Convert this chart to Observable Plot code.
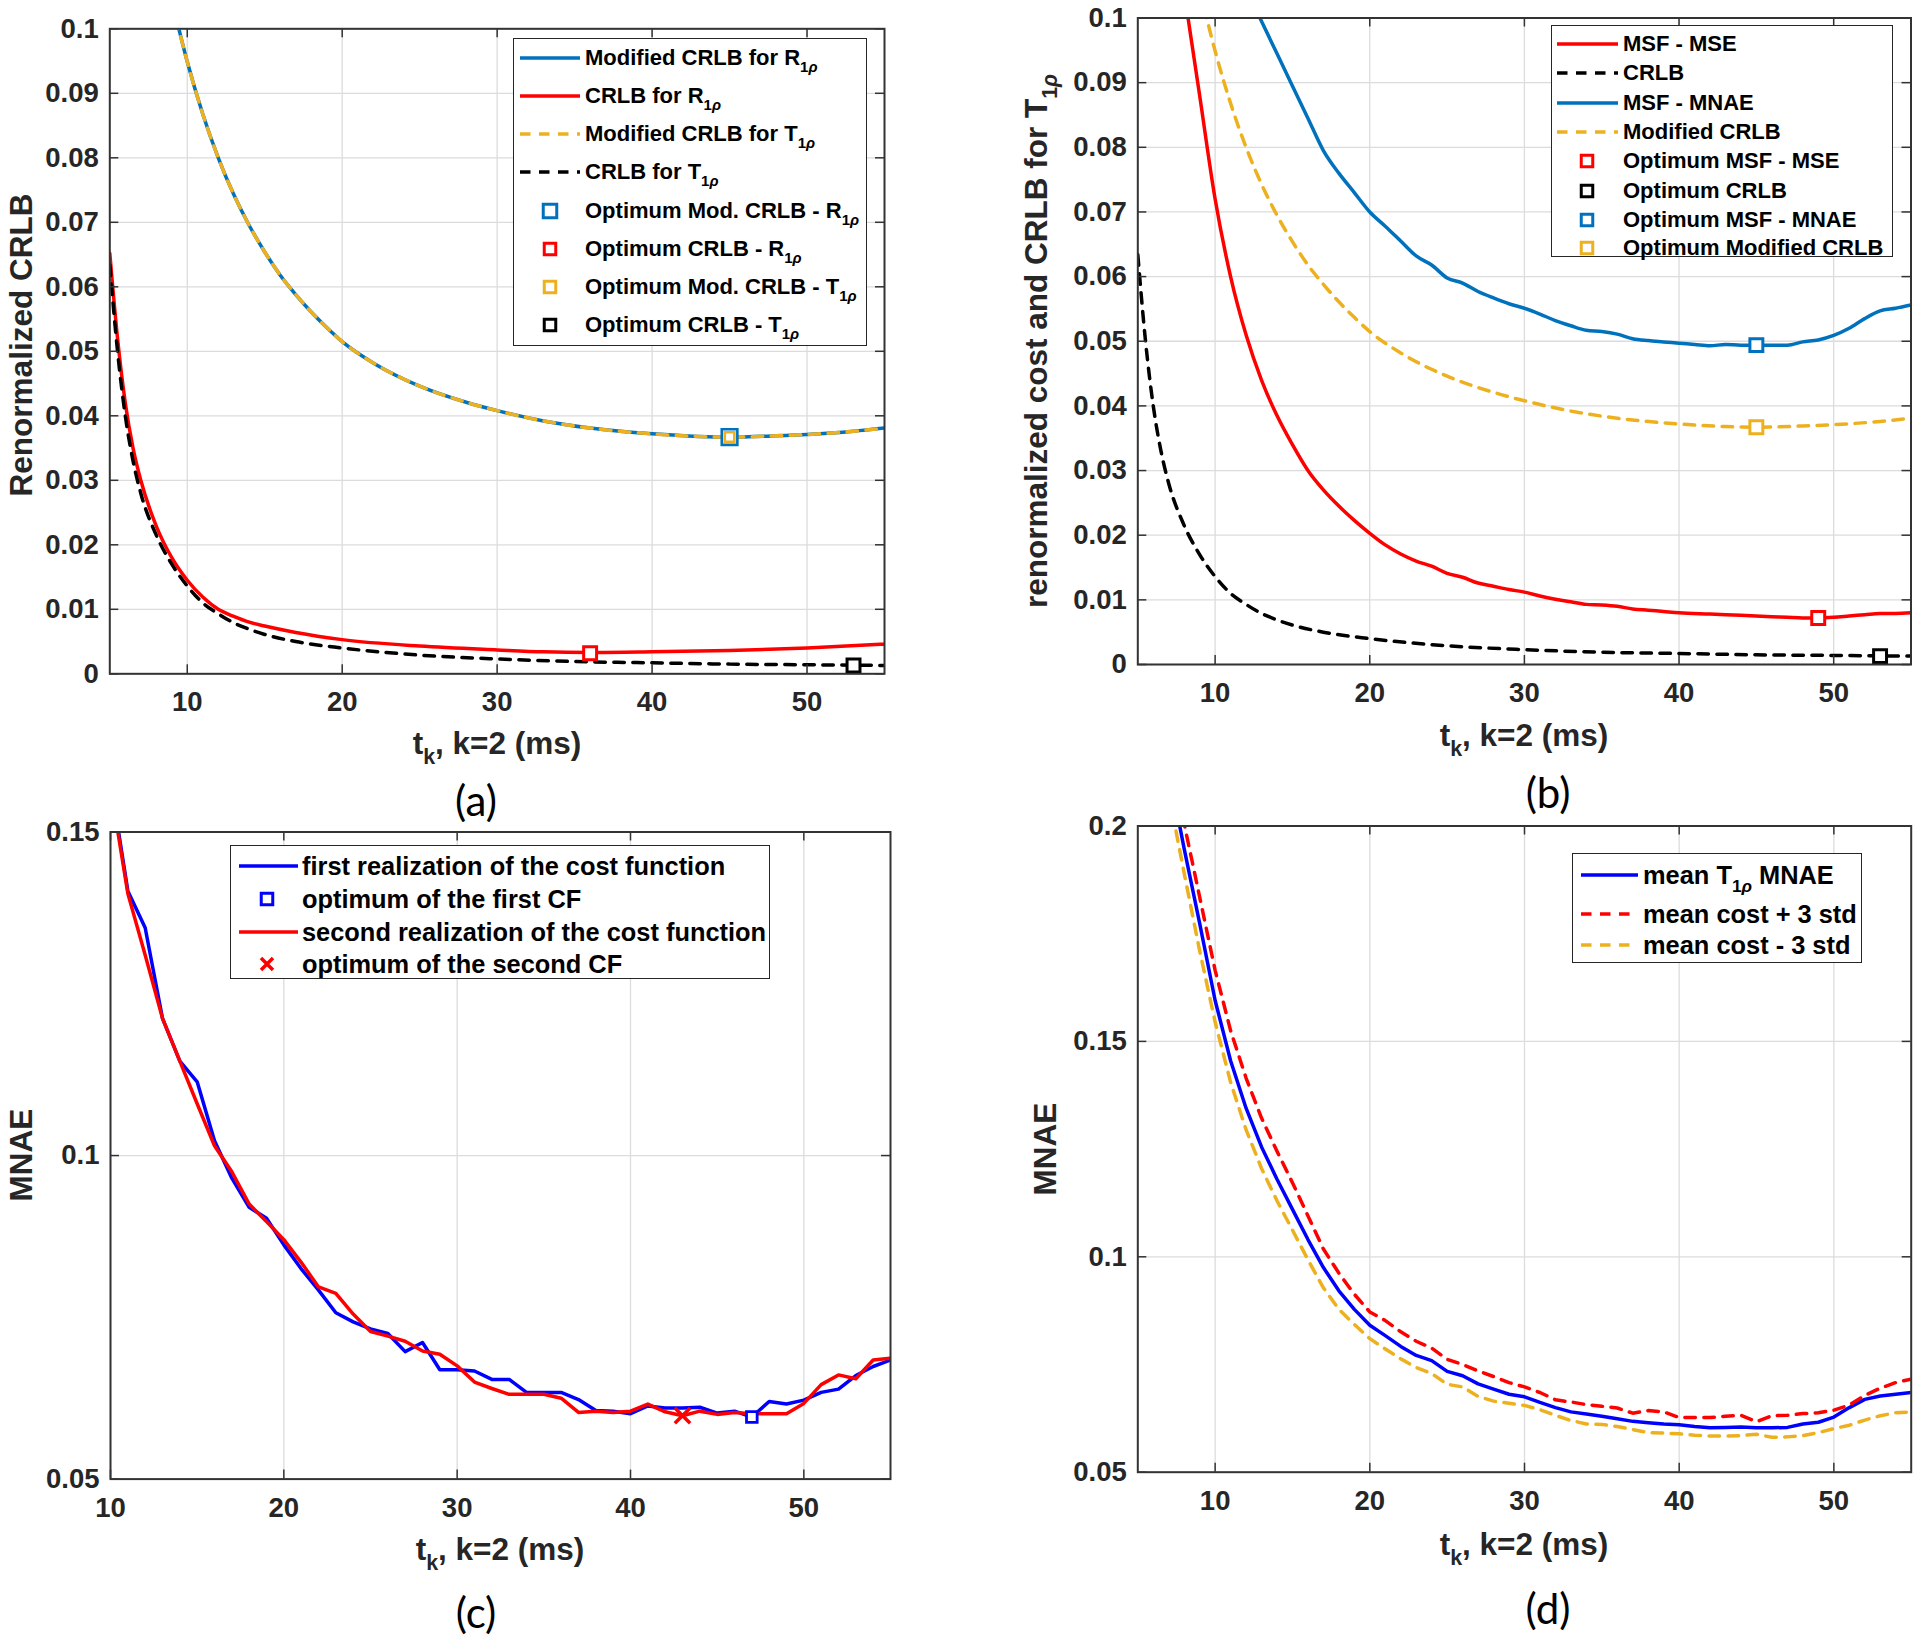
<!DOCTYPE html>
<html>
<head>
<meta charset="utf-8">
<script src="https://cdn.jsdelivr.net/npm/d3@7"></script>
<script src="https://cdn.jsdelivr.net/npm/@observablehq/plot@0.6"></script>
<style>
  body { margin: 0; background: #fff; }
  #root { position: relative; width: 1920px; height: 1636px; overflow: hidden; background: #fff;
          font-family: 'Liberation Sans', Arial, sans-serif; color: #262626; }
  .lbl { position: absolute; font-weight: bold; font-size: 31.5px; white-space: nowrap; line-height: 1;
         transform: translate(-50%, -50%); }
  .rot { transform: translate(-50%, -50%) rotate(-90deg); }
  .plab { position: absolute; font-family: 'Lato', 'Open Sans', sans-serif; font-size: 42px; color: #000;
          transform: translate(-50%, -50%); line-height: 1; }
  .leg { position: absolute; background: #fff; border: 1.5px solid #262626; box-sizing: border-box; }
  .leg .t { position: absolute; font-weight: bold; white-space: nowrap; line-height: 1; color: #000; }
  sub { font-size: 0.68em; vertical-align: -0.45em; line-height: 0; }
</style>
</head>
<body>
<div id="root"></div>
<script>
// ---------------- DATA ----------------
// Panel (a) & (b): modified CRLB for T1rho / R1rho (identical curves)
const tModCRLB = [9, 10, 11, 12, 13, 14, 15, 16, 17, 18, 19, 20, 22, 25, 28, 30, 33, 36, 40, 43, 45, 48, 50, 53, 55];
const modCRLB  = [0.1045, 0.0949, 0.0868, 0.0800, 0.0743, 0.0695, 0.0654, 0.0618, 0.0588, 0.0561, 0.0537, 0.0515,
                  0.0482, 0.0446, 0.0421, 0.0408, 0.0392, 0.0381, 0.0372, 0.0368, 0.0367, 0.0369, 0.0371, 0.0376, 0.0381];
// Panel (a): CRLB for R1rho
const tCrlbR = [5, 5.5, 6, 6.5, 7, 8, 9, 10, 11, 12, 13, 14, 15, 17, 20, 25, 30, 33, 36, 40, 45, 50, 55];
const crlbR  = [0.0652, 0.052, 0.042, 0.035, 0.030, 0.0229, 0.018, 0.0145, 0.0119, 0.0100, 0.0089, 0.0080, 0.0074,
                0.0064, 0.0053, 0.0043, 0.0037, 0.0034, 0.0033, 0.0034, 0.0036, 0.0040, 0.0046];
// Panel (a) & (b): CRLB for T1rho
const tCrlbT = [5, 5.5, 6, 6.5, 7, 8, 9, 10, 11, 12, 13, 14, 15, 17, 20, 25, 30, 35, 40, 45, 50, 55];
const crlbT  = [0.0634, 0.050, 0.040, 0.033, 0.028, 0.0215, 0.0170, 0.0136, 0.0110, 0.0093, 0.0079, 0.0069, 0.0061,
                0.0050, 0.0040, 0.0029, 0.0023, 0.0019, 0.0017, 0.0015, 0.0014, 0.0013];
// Optimum markers (a)
const optA_x = [45, 36, 45, 53];
const optA_y = [0.0367, 0.0032, 0.0367, 0.0013];

// Panel (b): MSF - MSE and MSF - MNAE
const tMse = [8, 9, 10, 11, 12, 13, 14, 15, 16, 17, 18, 19, 20, 21, 22, 23, 24, 25, 26, 27, 28, 29, 30, 31, 32, 33, 34,
              35, 36, 37, 38, 39, 40, 42, 44, 46, 47, 48, 49, 50, 51, 52, 53, 54, 55];
const msfMse = [0.104, 0.088, 0.072, 0.060, 0.051, 0.044, 0.0385, 0.034, 0.030, 0.027, 0.0245, 0.0223, 0.0203, 0.0185,
                0.0171, 0.0160, 0.0152, 0.0141, 0.0135, 0.0126, 0.0121, 0.0116, 0.0112, 0.0106, 0.0101, 0.0097, 0.0093,
                0.0092, 0.0090, 0.0086, 0.0084, 0.0082, 0.0080, 0.0078, 0.0076, 0.0074, 0.0073, 0.0072, 0.0072, 0.0073,
                0.0075, 0.0077, 0.0079, 0.0079, 0.0080];
const tMnae = [12, 13, 14, 15, 16, 17, 18, 19, 20, 21, 22, 23, 24, 25, 26, 27, 28, 29, 30, 31, 32, 33, 34, 35, 36, 37,
               38, 39, 40, 41, 42, 43, 44, 45, 46, 47, 48, 49, 50, 51, 52, 53, 54, 55];
const msfMnae = [0.1045, 0.0995, 0.0945, 0.0895, 0.0845, 0.0795, 0.0760, 0.0730, 0.0700, 0.0678, 0.0655, 0.0632, 0.0618,
                 0.0598, 0.0590, 0.0577, 0.0567, 0.0558, 0.0551, 0.0542, 0.0532, 0.0524, 0.0517, 0.0515, 0.0511, 0.0504,
                 0.0501, 0.0499, 0.0497, 0.0495, 0.0493, 0.0495, 0.0494, 0.0494, 0.0494, 0.0494, 0.0499, 0.0502, 0.0509,
                 0.0520, 0.0535, 0.0547, 0.0551, 0.0556];
const optB_x = [49, 53, 45, 45];
const optB_y = [0.0072, 0.0013, 0.0494, 0.0367];

// Panel (c): two realizations of the cost function
const tC = [10, 11, 12, 13, 14, 15, 16, 17, 18, 19, 20, 21, 22, 23, 24, 25, 26, 27, 28, 29, 30, 31, 32, 33, 34, 35, 36,
            37, 38, 39, 40, 41, 42, 43, 44, 45, 46, 47, 48, 49, 50, 51, 52, 53, 54, 55];
const cf1 = [0.158, 0.1409, 0.1352, 0.1212, 0.1146, 0.1114, 0.1023, 0.0965, 0.0920, 0.0903, 0.0862, 0.0825, 0.0792,
             0.0757, 0.0743, 0.0732, 0.0725, 0.0697, 0.0711, 0.0669, 0.0669, 0.0667, 0.0654, 0.0654, 0.0634, 0.0634,
             0.0634, 0.0623, 0.0606, 0.0605, 0.0601, 0.0613, 0.0610, 0.0610, 0.0611, 0.0602, 0.0605, 0.0596, 0.0620,
             0.0616, 0.0622, 0.0634, 0.0639, 0.0660, 0.0674, 0.0684];
const cf2 = [0.157, 0.1405, 0.1310, 0.1212, 0.1146, 0.1080, 0.1015, 0.0975, 0.0925, 0.0898, 0.0870, 0.0835, 0.0797,
             0.0787, 0.0755, 0.0728, 0.0721, 0.0713, 0.0698, 0.0693, 0.0675, 0.0650, 0.0640, 0.0631, 0.0631, 0.0631,
             0.0625, 0.0603, 0.0605, 0.0603, 0.0605, 0.0616, 0.0604, 0.0598, 0.0605, 0.0600, 0.0603, 0.0601, 0.0601,
             0.0601, 0.0617, 0.0646, 0.0661, 0.0655, 0.0684, 0.0687];
const optC1 = [47, 0.0596];
const optC2 = [43, 0.0598];

// Panel (d): mean MNAE and +/- 3 std
const tD = [7, 8, 9, 10, 11, 12, 13, 14, 15, 16, 17, 18, 19, 20, 21, 22, 23, 24, 25, 26, 27, 28, 29, 30, 31, 32, 33,
            34, 35, 36, 37, 38, 39, 40, 41, 42, 43, 44, 45, 46, 47, 48, 49, 50, 51, 52, 53, 54, 55];
const meanMnae = [0.213, 0.1947, 0.1774, 0.1595, 0.1455, 0.1345, 0.1255, 0.1180, 0.1110, 0.1040, 0.0975, 0.0921,
                  0.0878, 0.0841, 0.0817, 0.0792, 0.0771, 0.0759, 0.0734, 0.0724, 0.0705, 0.0693, 0.0681, 0.0675,
                  0.0662, 0.0650, 0.0640, 0.0635, 0.0630, 0.0624, 0.0618, 0.0615, 0.0612, 0.0610, 0.0606, 0.0603,
                  0.0604, 0.0605, 0.0603, 0.0603, 0.0604, 0.0612, 0.0616, 0.0628, 0.0650, 0.0669, 0.0677, 0.0681, 0.0685];
const plus3 = [0.2195, 0.2005, 0.1835, 0.1665, 0.1525, 0.1415, 0.1322, 0.1245, 0.1172, 0.1095, 0.1018, 0.0962, 0.0913,
               0.0872, 0.0852, 0.0826, 0.0804, 0.0788, 0.0762, 0.0750, 0.0735, 0.0722, 0.0708, 0.0698, 0.0685, 0.0668,
               0.0663, 0.0657, 0.0653, 0.0649, 0.0637, 0.0643, 0.0640, 0.0627, 0.0627, 0.0627, 0.0630, 0.0632, 0.0617,
               0.0631, 0.0632, 0.0636, 0.0638, 0.0644, 0.0656, 0.0678, 0.0695, 0.0708, 0.0716];
const minus3 = [0.2075, 0.1890, 0.1710, 0.1545, 0.1405, 0.1295, 0.1205, 0.1130, 0.1062, 0.0993, 0.0928, 0.0878, 0.0843,
                0.0810, 0.0786, 0.0763, 0.0743, 0.0729, 0.0704, 0.0698, 0.0676, 0.0665, 0.0660, 0.0655, 0.0645, 0.0632,
                0.0620, 0.0612, 0.0611, 0.0606, 0.0599, 0.0592, 0.0591, 0.0589, 0.0586, 0.0584, 0.0584, 0.0585, 0.0588,
                0.0581, 0.0582, 0.0585, 0.0592, 0.0601, 0.0609, 0.0621, 0.0631, 0.0638, 0.0640];

// Ticks
const xTicks = [10, 20, 30, 40, 50];
const yTicksAB = [0, 0.01, 0.02, 0.03, 0.04, 0.05, 0.06, 0.07, 0.08, 0.09, 0.1];
const yTicksC = [0.05, 0.1, 0.15];
const yTicksD = [0.05, 0.1, 0.15, 0.2];

// Legend labels
const R1p = "R<sub>1<i>ρ</i></sub>", T1p = "T<sub>1<i>ρ</i></sub>";
const legendA = ["Modified CRLB for " + R1p, "CRLB for " + R1p, "Modified CRLB for " + T1p, "CRLB for " + T1p,
                 "Optimum Mod. CRLB - " + R1p, "Optimum CRLB - " + R1p, "Optimum Mod. CRLB - " + T1p, "Optimum CRLB - " + T1p];
const legendB = ["MSF - MSE", "CRLB", "MSF - MNAE", "Modified CRLB", "Optimum MSF - MSE", "Optimum CRLB",
                 "Optimum MSF - MNAE", "Optimum Modified CRLB"];
const legendC = ["first realization of the cost function", "optimum of the first CF",
                 "second realization of the cost function", "optimum of the second CF"];
const legendD = ["mean " + T1p + " MNAE", "mean cost + 3 std", "mean cost - 3 std"];

// ---------------- STYLE ----------------
const C = { mblue: "#0072BD", red: "#FF0000", yellow: "#EDB120", black: "#000000", blue: "#0000FF" };
const LW = 3.5, DASH = "10.5,8.5";
const root = document.getElementById("root");
const fmt = d3.format("~g");

function panel({ left, top, width, height, mL, mT, mR, mB, xDomain, yDomain, yTicks, marks }) {
  const plotW = width - mL - mR, plotH = height - mT - mB, tl = 9;
  const tickStyle = { stroke: "#333", strokeWidth: 1.5 };
  const svg = Plot.plot({
    width, height, marginLeft: mL, marginTop: mT, marginRight: mR, marginBottom: mB,
    x: { domain: xDomain, label: null },
    y: { domain: yDomain, label: null },
    style: { fontFamily: "'Liberation Sans', Arial, sans-serif", fontSize: "27.5px", fontWeight: "bold",
             color: "#262626", background: "transparent", overflow: "visible" },
    marks: [
      Plot.gridX(xTicks, { stroke: "#dcdcdc", strokeOpacity: 1, strokeWidth: 1.3 }),
      Plot.gridY(yTicks, { stroke: "#dcdcdc", strokeOpacity: 1, strokeWidth: 1.3 }),
      ...marks,
      Plot.tickX(xTicks, { insetTop: plotH - tl, ...tickStyle }),
      Plot.tickX(xTicks, { insetBottom: plotH - tl, ...tickStyle }),
      Plot.tickY(yTicks, { insetRight: plotW - tl, ...tickStyle }),
      Plot.tickY(yTicks, { insetLeft: plotW - tl, ...tickStyle }),
      Plot.frame({ stroke: "#333", strokeWidth: 2 }),
      Plot.axisX(xTicks, { tickSize: 0, tickPadding: 18, tickFormat: fmt }),
      Plot.axisY(yTicks, { tickSize: 0, tickPadding: 11, tickFormat: fmt })
    ]
  });
  svg.style.position = "absolute";
  svg.style.left = left + "px";
  svg.style.top = top + "px";
  root.appendChild(svg);
}

const line = (xs, ys, stroke, dashed, curve = "linear") =>
  Plot.lineY(ys, { x: xs, stroke, strokeWidth: LW, strokeDasharray: dashed ? DASH : null, curve, clip: true });
const sq = (x, y, stroke, r = 7.3, sw = 3) =>
  Plot.dot([0], { x: [x], y: [y], symbol: "square", r, stroke, strokeWidth: sw, fill: "white" });

// (a)
panel({
  left: 0, top: 0, width: 930, height: 790, mL: 109.3, mT: 28.3, mR: 46, mB: 116.7,
  xDomain: [5, 55], yDomain: [0, 0.1], yTicks: yTicksAB,
  marks: [
    line(tModCRLB, modCRLB, C.mblue, false, "monotone-x"),
    line(tCrlbR, crlbR, C.red, false, "monotone-x"),
    line(tModCRLB, modCRLB, C.yellow, true, "monotone-x"),
    line(tCrlbT, crlbT, C.black, true, "monotone-x"),
    sq(optA_x[0], optA_y[0], C.mblue, 8.8, 2.6),
    sq(optA_x[1], optA_y[1], C.red),
    sq(optA_x[2], optA_y[2], C.yellow, 5.4, 2.6),
    sq(optA_x[3], optA_y[3], C.black)
  ]
});
// (b)
panel({
  left: 960, top: 0, width: 960, height: 790, mL: 177.3, mT: 17.5, mR: 9.5, mB: 126,
  xDomain: [5, 55], yDomain: [0, 0.1], yTicks: yTicksAB,
  marks: [
    line(tMse, msfMse, C.red, false, "monotone-x"),
    line(tCrlbT, crlbT, C.black, true, "monotone-x"),
    line(tMnae, msfMnae, C.mblue, false, "monotone-x"),
    line(tModCRLB, modCRLB, C.yellow, true, "monotone-x"),
    sq(optB_x[0], optB_y[0], C.red),
    sq(optB_x[1], optB_y[1], C.black),
    sq(optB_x[2], optB_y[2], C.mblue),
    sq(optB_x[3], optB_y[3], C.yellow)
  ]
});
// (c)
panel({
  left: 0, top: 800, width: 930, height: 836, mL: 110, mT: 31.5, mR: 40, mB: 157.4,
  xDomain: [10, 55], yDomain: [0.05, 0.15], yTicks: yTicksC,
  marks: [
    line(tC, cf1, C.blue, false),
    line(tC, cf2, C.red, false),
    sq(optC1[0], optC1[1], C.blue, 6, 2.8),
    Plot.dot([0], { x: [optC2[0]], y: [optC2[1]], symbol: "times", r: 7, stroke: C.red, strokeWidth: 3.5 })
  ]
});
// (d)
panel({
  left: 960, top: 800, width: 960, height: 836, mL: 177.3, mT: 25.5, mR: 9.3, mB: 164.3,
  xDomain: [5, 55], yDomain: [0.05, 0.2], yTicks: yTicksD,
  marks: [
    line(tD, meanMnae, C.blue, false),
    line(tD, plus3, C.red, true),
    line(tD, minus3, C.yellow, true)
  ]
});

// ---------------- LABELS ----------------
function label(html, x, y, rotate = false) {
  const d = document.createElement("div");
  d.className = "lbl" + (rotate ? " rot" : "");
  d.style.left = x + "px"; d.style.top = y + "px";
  d.innerHTML = html;
  root.appendChild(d);
}
const xLab = "t<sub>k</sub>, k=2 (ms)";
label(xLab, 497, 744);
label(xLab, 1524, 736);
label(xLab, 500, 1550);
label(xLab, 1524, 1545);
label("Renormalized CRLB", 22, 345, true);
label("renormalized cost and CRLB for " + T1p, 1037, 341, true);
label("MNAE", 22, 1155, true);
label("MNAE", 1046, 1149, true);

function plab(t, x, y) {
  const d = document.createElement("div");
  d.className = "plab"; d.style.left = x + "px"; d.style.top = y + "px"; d.textContent = t;
  root.appendChild(d);
}
plab("(a)", 476, 800); plab("(b)", 1548, 792); plab("(c)", 476, 1612); plab("(d)", 1548, 1608);

// ---------------- LEGENDS ----------------
function legend({ left, top, width, height, fontSize, rowY, sx0, sx1, tx, mx, rows }) {
  const box = document.createElement("div");
  box.className = "leg";
  Object.assign(box.style, { left: left + "px", top: top + "px", width: width + "px", height: height + "px" });
  rows.forEach((r, i) => {
    const y = rowY[i];
    const ns = "http://www.w3.org/2000/svg";
    const s = document.createElementNS(ns, "svg");
    s.style.position = "absolute";
    if (r.kind === "line") {
      s.setAttribute("width", sx1 - sx0); s.setAttribute("height", 10);
      s.style.left = sx0 + "px"; s.style.top = (y - 5) + "px";
      const l = document.createElementNS(ns, "line");
      l.setAttribute("x1", 0); l.setAttribute("x2", sx1 - sx0); l.setAttribute("y1", 5); l.setAttribute("y2", 5);
      l.setAttribute("stroke", r.color); l.setAttribute("stroke-width", LW);
      if (r.dash) l.setAttribute("stroke-dasharray", DASH);
      s.appendChild(l);
    } else {
      const sz = 22;
      s.setAttribute("width", sz); s.setAttribute("height", sz);
      s.style.left = (mx - sz / 2) + "px"; s.style.top = (y - sz / 2) + "px";
      if (r.kind === "square") {
        const a = r.size || 11.5;
        const rc = document.createElementNS(ns, "rect");
        rc.setAttribute("x", (sz - a) / 2); rc.setAttribute("y", (sz - a) / 2);
        rc.setAttribute("width", a); rc.setAttribute("height", a);
        rc.setAttribute("fill", "white"); rc.setAttribute("stroke", r.color); rc.setAttribute("stroke-width", 3);
        s.appendChild(rc);
      } else {
        const p = document.createElementNS(ns, "path");
        p.setAttribute("d", "M5,5L17,17M17,5L5,17");
        p.setAttribute("stroke", r.color); p.setAttribute("stroke-width", 3.5);
        s.appendChild(p);
      }
    }
    box.appendChild(s);
    const t = document.createElement("div");
    t.className = "t";
    t.style.fontSize = fontSize + "px";
    t.style.left = tx + "px";
    t.style.top = (y - fontSize * 0.49) + "px";
    t.innerHTML = r.html;
    box.appendChild(t);
  });
  root.appendChild(box);
}

legend({
  left: 513, top: 38, width: 354, height: 308, fontSize: 22,
  rowY: [19, 57, 95, 133, 172, 210, 248, 286], sx0: 6, sx1: 66, tx: 71, mx: 36,
  rows: [
    { kind: "line", color: C.mblue, html: legendA[0] },
    { kind: "line", color: C.red, html: legendA[1] },
    { kind: "line", color: C.yellow, dash: true, html: legendA[2] },
    { kind: "line", color: C.black, dash: true, html: legendA[3] },
    { kind: "square", color: C.mblue, size: 13.5, html: legendA[4] },
    { kind: "square", color: C.red, html: legendA[5] },
    { kind: "square", color: C.yellow, html: legendA[6] },
    { kind: "square", color: C.black, html: legendA[7] }
  ]
});
legend({
  left: 1551, top: 25, width: 342, height: 232, fontSize: 22,
  rowY: [18, 47, 77, 106, 135, 165, 194, 222], sx0: 5, sx1: 66, tx: 71, mx: 35,
  rows: [
    { kind: "line", color: C.red, html: legendB[0] },
    { kind: "line", color: C.black, dash: true, html: legendB[1] },
    { kind: "line", color: C.mblue, html: legendB[2] },
    { kind: "line", color: C.yellow, dash: true, html: legendB[3] },
    { kind: "square", color: C.red, html: legendB[4] },
    { kind: "square", color: C.black, html: legendB[5] },
    { kind: "square", color: C.mblue, html: legendB[6] },
    { kind: "square", color: C.yellow, html: legendB[7] }
  ]
});
legend({
  left: 230, top: 845, width: 540, height: 134, fontSize: 25.4,
  rowY: [20, 53, 86, 118], sx0: 8, sx1: 67, tx: 71, mx: 36,
  rows: [
    { kind: "line", color: C.blue, html: legendC[0] },
    { kind: "square", color: C.blue, html: legendC[1] },
    { kind: "line", color: C.red, html: legendC[2] },
    { kind: "times", color: C.red, html: legendC[3] }
  ]
});
legend({
  left: 1572, top: 853, width: 290, height: 110, fontSize: 25.4,
  rowY: [21, 60, 91], sx0: 8, sx1: 65, tx: 70, mx: 36,
  rows: [
    { kind: "line", color: C.blue, html: legendD[0] },
    { kind: "line", color: C.red, dash: true, html: legendD[1] },
    { kind: "line", color: C.yellow, dash: true, html: legendD[2] }
  ]
});
</script>
</body>
</html>
